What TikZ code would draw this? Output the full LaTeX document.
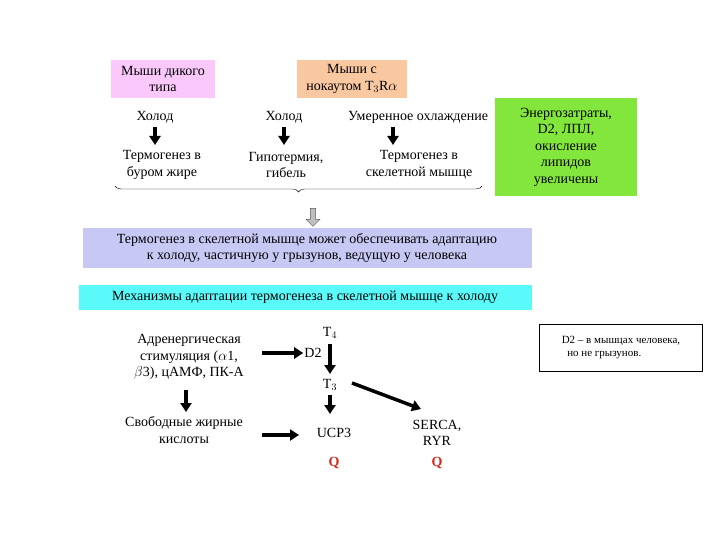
\documentclass[tikz,border=0pt]{standalone}
\usepackage{fontspec}
\setmainfont{Liberation Serif}
\usetikzlibrary{arrows.meta,shapes.arrows,decorations.pathreplacing}
\definecolor{pinkbox}{RGB}{250,200,250}
\definecolor{orangebox}{RGB}{250,200,160}
\definecolor{greenbox}{RGB}{130,230,60}
\definecolor{lavbox}{RGB}{200,200,245}
\definecolor{cyanbox}{RGB}{90,250,250}
\definecolor{qred}{RGB}{210,40,30}
\begin{document}
\begin{tikzpicture}[x=1pt,y=-1pt,
  txt/.style={align=center,font=\fontsize{14}{16.5}\selectfont,inner sep=1pt},
  box/.style={txt,inner sep=3pt},
  arr/.style={-{Triangle[length=9pt,width=11pt]},line width=3.5pt}]
    \useasboundingbox (0,0) rectangle (720,540);
    % header boxes
    \node[box,fill=pinkbox,minimum width=104pt,minimum height=38pt](wild) at (163,79) {Мыши дикого\\типа};
    \node[box,fill=orangebox,minimum width=110pt,minimum height=38pt](ko) at (352,79) {Мыши с\\нокаутом T$_3$R$\alpha$};
    \node[box,fill=greenbox,minimum width=142pt,minimum height=98pt](energy) at (566,147) {Энергозатраты,\\D2, ЛПЛ,\\окисление\\липидов\\увеличены};
    % three branches
    \node[txt](cold1) at (155,117) {Холод};
    \node[txt](bat) at (162,165) {Термогенез в\\буром жире};
    \node[txt](cold2) at (284,117) {Холод};
    \node[txt](hypo) at (286,165) {Гипотермия,\\гибель};
    \node[txt](mild) at (418,117) {Умеренное охлаждение};
    \node[txt](skm) at (419,165) {Термогенез в\\скелетной мышце};
    \draw[arr] (155,127) -- (155,145);
    \draw[arr] (284,127) -- (284,145);
    \draw[arr] (393,127) -- (393,145);
    \coordinate (bl) at (115,186);
    \coordinate (br) at (482,186);
    \draw[decorate,decoration={brace,mirror,amplitude=6pt}] (bl) -- (br);
    \node[single arrow,draw=gray!70!black,fill=gray!50,shape border rotate=270,minimum height=18pt,single arrow head extend=2pt,minimum width=14pt,inner sep=1pt](down) at (313,216) {};
    \node[box,fill=lavbox,minimum width=449pt,minimum height=39pt](concl) at (307,248) {Термогенез в скелетной мышце может обеспечивать адаптацию\\к холоду, частичную у грызунов, ведущую у человека};
    \node[box,fill=cyanbox,minimum width=453pt,minimum height=25pt](mech) at (305,297) {Механизмы адаптации термогенеза в скелетной мышце к холоду};
    % mechanisms
    \node[txt](adr) at (189,357) {Адренергическая\\стимуляция ($\alpha$1,\\$\beta$3), цАМФ, ПК-А};
    \node[txt](ffa) at (184,430) {Свободные жирные\\кислоты};
    \node[txt](t4) at (330,333) {T$_4$};
    \node[txt](d2) at (313,353) {D2};
    \node[txt](t3) at (330,385) {T$_3$};
    \node[txt](ucp) at (334,433) {UCP3};
    \node[txt](serca) at (437,433) {SERCA,\\RYR};
    \node[txt,text=qred,font=\fontsize{14}{16}\selectfont\bfseries](q1) at (334,463) {Q};
    \node[txt,text=qred,font=\fontsize{14}{16}\selectfont\bfseries](q2) at (437,463) {Q};
    \draw[arr] (262,353) -- (d2.west);
    \draw[arr] (330,344) -- (330,374);
    \draw[arr] (330,395) -- (330,414);
    \draw[arr] (352,383) -- (421,409);
    \draw[arr] (186,390) -- (186,412);
    \draw[arr] (262,435) -- (299,435);
    \node[draw,thin,align=left,font=\fontsize{11}{13}\selectfont,minimum width=163pt,minimum height=47pt](note) at (621,348) {D2 – в мышцах человека,\\\ \ но не грызунов.};
\end{tikzpicture}
\end{document}
